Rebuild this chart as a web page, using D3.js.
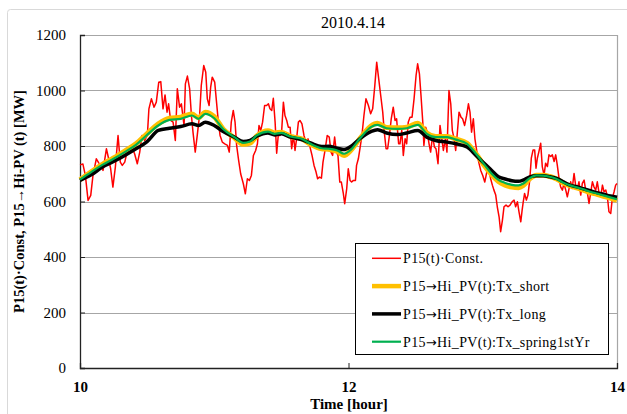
<!DOCTYPE html>
<html>
<head>
<meta charset="utf-8">
<script src="https://cdn.jsdelivr.net/npm/d3@7"></script>
<style>
  body { margin: 0; background: #fff; }
  svg { display: block; font-family: "Liberation Serif", "Times New Roman", serif; }
</style>
</head>
<body>
<svg id="chart" width="627" height="414"></svg>
<script>
// minutes after 10:00 and MW
var redMin = [0,1.3,2.4,3.6,4.8,5.8,7.3,8.3,9.2,10.3,11.8,12.8,13.7,14.7,15.8,17.0,18.0,18.9,20.0,21.2,22.2,23.2,24.4,25.6,26.7,27.7,28.9,30.1,30.8,31.9,33.1,34.1,35.2,36.1,37.1,38.0,38.9,39.6,40.5,41.6,42.6,43.5,44.5,45.3,46.5,47.1,48.0,49.0,49.8,50.5,51.5,52.4,53.5,54.2,55.3,56.2,56.9,57.7,58.4,59.1,60.2,
  61.7,62.6,63.6,64.7,65.9,66.7,67.6,68.5,69.3,70.0,70.9,71.8,73.0,73.9,74.8,75.7,76.6,77.5,78.5,79.3,80.0,80.8,81.6,82.5,83.4,84.2,84.9,85.7,86.4,87.2,87.9,88.6,89.4,90.1,90.9,91.6,92.4,93.1,93.9,94.6,95.4,96.1,96.8,97.6,98.3,99.2,100.1,101.0,101.9,102.8,103.7,104.6,105.5,106.2,107.0,107.9,108.6,109.5,110.5,111.4,112.2,112.9,113.8,114.6,115.3,116.1,116.8,117.7,118.3,119.2,119.9,120.7,
  121.4,122.2,123.1,123.6,124.4,125.1,126.0,126.9,127.8,128.9,129.9,130.8,131.7,132.6,133.5,134.4,135.3,136.0,136.8,137.5,138.3,139.1,140.0,140.8,141.5,142.4,143.0,143.8,144.5,145.3,146.0,146.7,147.5,148.4,149.3,150.2,150.9,151.7,152.4,153.2,153.7,154.5,155.2,156.0,156.7,157.6,158.4,159.1,160.0,160.9,161.6,162.4,163.3,164.0,164.9,165.7,166.4,167.2,167.9,168.6,169.4,170.3,171.0,171.9,172.8,173.6,174.3,175.0,175.8,176.5,177.4,178.2,179.1,180.0,180.9,181.8,182.6,
  183.5,184.3,185.0,185.8,186.5,187.3,188.0,188.8,189.5,190.4,191.3,192.2,193.1,194.0,194.7,195.5,196.2,197.0,197.6,198.1,198.7,199.5,200.2,201.0,201.7,202.5,203.2,203.8,204.4,205.1,205.9,206.6,207.4,208.1,208.9,209.6,210.4,211.1,211.9,212.6,213.3,214.1,214.8,215.6,216.3,217.1,217.8,218.6,219.3,220.0,220.8,221.5,222.3,223.0,223.8,224.5,225.3,226.0,226.8,227.5,228.2,229.0,229.7,230.5,231.2,232.0,232.7,233.5,234.2,235.0,235.7,236.4,237.2,237.9,238.7,239.4,240.0];
var redMW = [732,735,694,604,622,694,754,740,730,712,790,754,718,652,724,838,742,730,742,784,778,796,772,736,778,838,820,838,934,970,940,958,1030,1032,934,984,922,952,892,886,820,1006,940,952,874,1024,1052,1006,910,850,778,838,916,1018,1090,1066,970,946,1012,1048,1030,
  898,838,814,808,802,778,886,928,886,802,748,700,664,628,682,676,694,766,784,808,874,856,886,946,946,952,934,928,972,886,774,838,838,850,958,910,892,868,868,790,838,784,826,886,892,880,838,814,826,796,766,730,706,682,688,684,742,784,838,832,778,766,832,778,766,670,670,628,592,646,718,676,
  670,676,676,730,754,790,838,910,970,946,916,934,1012,1102,1042,982,922,850,790,790,838,898,940,892,898,808,808,856,766,826,808,886,904,904,970,1054,1096,1060,982,886,802,868,850,808,778,838,796,790,736,874,832,784,826,778,1000,952,856,826,784,844,922,904,898,874,910,952,922,850,898,826,778,742,712,694,670,706,718,
  683,659,641,623,581,545,491,533,581,587,581,587,599,605,581,599,563,527,569,599,629,605,623,677,756,786,786,720,756,780,810,726,695,738,726,768,762,768,744,768,732,683,653,641,665,641,617,647,671,647,701,659,647,671,623,665,677,641,629,593,629,671,653,641,671,629,617,659,635,641,617,563,557,611,635,659,665];

var smoothMin = [0,5,10,15,20,25,30,35,40,45,50,53,56,60,64,69,73,76,79,84,87,90,94,99,103,108,111,115,118,121,125,130,133,137,142,146,151,155,159,164,168,173,177,181,184,187,190,193,196,198,201,204,207,210,213,216,219,222,225,228,231,234,237,240];
var shortMW = [678,707,734,757,782,808,845,880,900,904,915,902,922,906,861,830,806,810,836,855,847,850,835,826,806,790,788,780,766,784,826,872,882,867,866,868,882,847,834,834,825,810,772,726,696,672,659,652,650,657,682,695,695,690,681,667,656,649,641,632,626,619,612,604];
var longMW = [676,696,724,744,766,790,816,856,864,870,880,874,886,874,852,832,816,820,835,847,840,844,832,823,811,798,799,792,787,798,826,852,859,847,841,847,856,832,820,814,808,796,766,735,712,689,681,675,673,677,689,693,693,689,683,671,659,653,646,639,632,626,620,615];
var springMW = [679,706,732,754,778,804,840,874,894,898,910,898,916,900,861,832,811,816,838,852,844,847,834,826,808,792,790,784,772,786,826,868,876,864,862,864,876,844,832,832,823,808,772,730,700,678,667,660,658,664,684,694,693,689,681,668,658,651,644,635,629,622,615,608];

var yTicks = [0, 200, 400, 600, 800, 1000, 1200];
var xTicks = [10, 12, 14];
// legend names, split round the arrow so it can use a wider glyph
var seriesNames = [["P15(t)\u00b7Const.", "", ""],
                   ["P15", "\u2192", "Hi_PV(t):Tx_short"],
                   ["P15", "\u2192", "Hi_PV(t):Tx_long"],
                   ["P15", "\u2192", "Hi_PV(t):Tx_spring1stYr"]];
var seriesColors = ["#ff0000", "#ffc000", "#000000", "#00b050"];
var seriesWidths = [1.5, 5, 3.5, 2.2];

var svg = d3.select("#chart");
var pLeft = 80, pRight = 617, pTop = 35, pBottom = 368;

var x = d3.scaleLinear().domain([10, 14]).range([pLeft, pRight]);
var y = d3.scaleLinear().domain([0, 1200]).range([pBottom, pTop]);

// outer chart frame
svg.append("rect")
    .attr("x", 7.5).attr("y", 9.5)
    .attr("width", 660).attr("height", 440)
    .attr("rx", 3)
    .style("fill", "#fff")
    .style("stroke", "#d9d9d9");

// gridlines
svg.append("g")
    .selectAll("line")
    .data(yTicks.slice(1))
    .enter()
    .append("line")
    .attr("x1", pLeft).attr("x2", pRight)
    .attr("y1", function(d) { return Math.round(y(d)) + 0.5; })
    .attr("y2", function(d) { return Math.round(y(d)) + 0.5; })
    .style("stroke", "#a6a6a6")
    .style("stroke-width", 1.2);

svg.append("line")
    .attr("x1", pRight + 0.5).attr("x2", pRight + 0.5)
    .attr("y1", pTop).attr("y2", pBottom)
    .style("stroke", "#a6a6a6")
    .style("stroke-width", 1.2);

// axes
var yAxis = svg.append("g")
    .attr("transform", "translate(" + pLeft + ",0)")
    .call(d3.axisLeft(y).tickValues(yTicks).tickSize(-5).tickPadding(14).tickFormat(d3.format("d")));
var xAxis = svg.append("g")
    .attr("transform", "translate(0," + pBottom + ")")
    .call(d3.axisBottom(x).tickValues(xTicks).tickSize(-5).tickPadding(13).tickFormat(d3.format("d")));

[yAxis, xAxis].forEach(function(a) {
    a.select(".domain").style("stroke", "#222").style("stroke-width", 1.3);
    a.selectAll(".tick line").style("stroke", "#222");
    a.selectAll("text")
        .style("font-family", "Liberation Serif, serif")
        .style("font-size", "15px")
        .style("fill", "#000");
});
xAxis.selectAll("text").style("font-weight", "bold");

// series
function minToHour(m) { return 10 + m / 60; }

var redLine = d3.line()
    .x(function(d, i) { return x(minToHour(redMin[i])); })
    .y(function(d) { return y(d); });

var smoothLine = d3.line()
    .curve(d3.curveMonotoneX)
    .x(function(d, i) { return x(minToHour(smoothMin[i])); })
    .y(function(d) { return y(d); });

var plot = svg.append("g");
plot.append("path").attr("d", redLine(redMW))
    .style("fill", "none").style("stroke", seriesColors[0]).style("stroke-width", seriesWidths[0])
    .style("stroke-linejoin", "round");
[shortMW, longMW, springMW].forEach(function(s, k) {
    plot.append("path").attr("d", smoothLine(s))
        .style("fill", "none")
        .style("stroke", seriesColors[k + 1])
        .style("stroke-width", seriesWidths[k + 1])
        .style("stroke-linejoin", "round");
});

// title and axis titles
svg.append("text")
    .attr("x", 353).attr("y", 28)
    .style("text-anchor", "middle")
    .style("font-size", "16px")
    .text("2010.4.14");

svg.append("text")
    .attr("x", 349).attr("y", 409)
    .style("text-anchor", "middle")
    .style("font-size", "15px")
    .style("font-weight", "bold")
    .text("Time [hour]");

svg.append("text")
    .attr("transform", "translate(24," + ((pTop + pBottom) / 2) + ") rotate(-90)")
    .style("text-anchor", "middle")
    .style("font-size", "14.5px")
    .style("font-weight", "bold")
    .text("P15(t)\u00b7Const, P15\u2192Hi-PV (t) [MW]");

// legend
var legend = svg.append("g");
legend.append("rect")
    .attr("x", 355.5).attr("y", 243.5)
    .attr("width", 253).attr("height", 111)
    .style("fill", "#fff")
    .style("stroke", "#000")
    .style("stroke-width", 1);

var items = legend.selectAll(".item")
    .data(seriesNames)
    .enter()
    .append("g")
    .attr("class", "item")
    .attr("transform", function(d, i) { return "translate(0," + (258.3 + i * 27.8) + ")"; });
items.append("line")
    .attr("x1", 372).attr("x2", 401)
    .style("stroke", function(d, i) { return seriesColors[i]; })
    .style("stroke-width", function(d, i) { return Math.min(seriesWidths[i], 4.5); });
var label = items.append("text")
    .attr("x", 403).attr("dy", "0.35em")
    .style("font-size", "14px")
    .style("letter-spacing", "0.35px");
label.append("tspan").text(function(d) { return d[0]; });
label.append("tspan").style("font-family", "DejaVu Sans").style("font-size", "13px").text(function(d) { return d[1]; });
label.append("tspan").text(function(d) { return d[2]; });
</script>
</body>
</html>
